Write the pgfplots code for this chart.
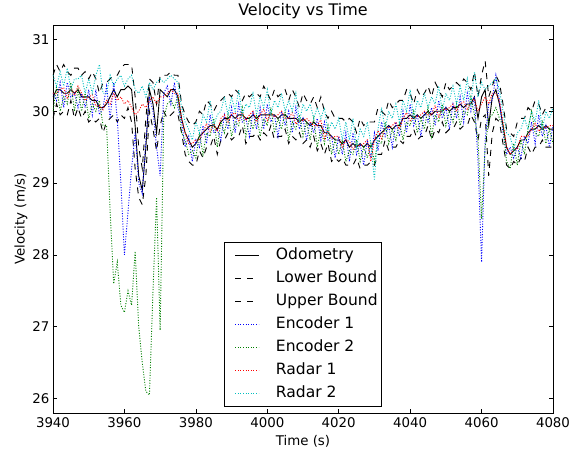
\documentclass[border=0pt]{standalone}
\usepackage{pgfplots}
\pgfplotsset{compat=1.18}
\usepackage{pgfplotstable}
\usepackage{fontspec}
\setmainfont{DejaVu Sans}
\definecolor{mb}{rgb}{0,0,1}
\definecolor{mg}{rgb}{0,0.5,0}
\definecolor{mr}{rgb}{1,0,0}
\definecolor{mc}{rgb}{0,0.75,0.75}
\pgfplotstableread{
t odo lo up e1 e2 r1 r2
3940 30.20 29.90 30.50 30.25 30.00 30.25 30.50
3941 30.30 30.10 30.65 30.15 30.35 30.25 30.35
3942 30.30 29.95 30.55 30.40 30.00 30.30 30.55
3943 30.25 30.00 30.65 30.05 30.20 30.33 30.35
3944 30.25 29.95 30.55 30.40 30.10 30.17 30.60
3945 30.30 30.15 30.50 30.20 30.40 30.33 30.30
3946 30.25 29.90 30.60 30.25 30.00 30.22 30.45
3947 30.30 30.05 30.60 30.05 30.30 30.35 30.45
3948 30.20 29.90 30.50 30.25 30.00 30.25 30.50
3949 30.20 30.00 30.55 30.05 30.25 30.15 30.25
3950 30.20 29.85 30.45 30.30 29.90 30.20 30.45
3951 30.15 29.90 30.55 29.95 30.10 30.23 30.25
3952 30.15 29.85 30.45 30.30 30.00 30.07 30.50
3953 30.05 29.90 30.25 29.95 30.15 30.08 30.65
3954 30.05 29.70 30.40 30.05 29.80 30.02 30.25
3955 30.10 29.85 30.40 30.35 29.80 30.15 30.25
3956 30.20 29.90 30.45 29.90 28.60 30.10 30.50
3957 30.30 29.95 30.50 30.40 27.60 30.25 30.35
3958 30.20 29.85 30.50 29.90 27.90 30.15 30.45
3959 30.30 29.95 30.60 29.00 27.30 30.20 30.50
3960 30.30 29.90 30.65 28.00 27.20 30.10 30.35
3961 30.35 30.05 30.65 28.60 27.50 30.15 30.45
3962 30.30 29.85 30.65 29.20 27.30 30.05 30.50
3963 29.80 29.20 30.20 29.70 28.05 29.95 30.30
3964 29.10 28.80 29.50 29.00 27.00 30.00 30.25
3965 28.90 28.70 29.20 28.85 26.50 30.10 30.35
3966 29.50 29.10 29.90 29.60 26.10 30.05 30.20
3967 30.30 30.00 30.45 30.20 26.05 30.15 30.40
3968 30.10 29.75 30.40 30.00 27.50 30.20 30.30
3969 29.70 29.45 30.10 29.50 28.80 30.10 30.40
3970 30.30 29.80 30.50 29.10 26.95 30.20 30.45
3971 30.25 30.00 30.50 30.25 29.90 30.20 30.40
3972 30.20 29.90 30.50 30.35 30.10 30.25 30.45
3973 30.30 29.95 30.55 30.10 30.15 30.30 30.50
3974 30.30 30.00 30.50 30.40 30.05 30.25 30.45
3975 30.20 29.95 30.50 30.05 30.20 30.25 30.40
3976 29.90 29.70 30.10 29.85 29.70 29.90 30.05
3977 29.70 29.40 29.95 29.50 29.60 29.70 29.85
3978 29.60 29.30 29.85 29.65 29.40 29.55 29.75
3979 29.50 29.25 29.80 29.30 29.45 29.55 29.60
3980 29.55 29.25 29.85 29.60 29.35 29.60 29.85
3981 29.65 29.45 30.00 29.50 29.70 29.60 29.70
3982 29.70 29.35 29.95 29.80 29.40 29.70 29.95
3983 29.75 29.50 30.15 29.55 29.70 29.83 29.85
3984 29.80 29.50 30.10 29.95 29.65 29.72 30.15
3985 29.80 29.65 30.00 29.70 29.90 29.83 29.80
3986 29.75 29.40 30.10 29.75 29.50 29.72 29.95
3987 29.85 29.60 30.15 29.60 29.85 29.90 30.00
3988 29.90 29.60 30.20 29.95 29.70 29.95 30.20
3989 29.90 29.70 30.25 29.75 29.95 29.85 29.95
3990 29.95 29.60 30.20 30.05 29.65 29.95 30.20
3991 29.90 29.65 30.30 29.70 29.85 29.98 30.00
3992 29.95 29.65 30.25 30.10 29.80 29.87 30.30
3993 29.95 29.80 30.15 29.85 30.05 29.98 29.95
3994 29.90 29.55 30.25 29.90 29.65 29.87 30.10
3995 29.90 29.65 30.20 29.65 29.90 29.95 30.05
3996 29.95 29.65 30.25 30.00 29.75 30.00 30.25
3997 29.90 29.70 30.25 29.75 29.95 29.85 29.95
3998 29.95 29.60 30.20 30.05 29.65 29.95 30.20
3999 29.95 29.70 30.35 29.75 29.90 30.03 30.05
4000 29.95 29.65 30.25 30.10 29.80 29.87 30.30
4001 29.95 29.80 30.15 29.85 30.05 29.98 29.95
4002 29.95 29.60 30.30 29.95 29.70 29.92 30.15
4003 29.90 29.65 30.20 29.65 29.90 29.95 30.05
4004 29.95 29.65 30.25 30.00 29.75 30.00 30.25
4005 29.95 29.75 30.30 29.80 30.00 29.90 30.00
4006 29.90 29.55 30.15 30.00 29.60 29.90 30.15
4007 29.90 29.65 30.30 29.70 29.85 29.98 30.00
4008 29.90 29.60 30.20 30.05 29.75 29.82 30.25
4009 29.85 29.70 30.05 29.75 29.95 29.88 29.85
4010 29.90 29.55 30.25 29.90 29.65 29.87 30.10
4011 29.85 29.60 30.15 29.60 29.85 29.90 30.00
4012 29.80 29.50 30.10 29.85 29.60 29.85 30.10
4013 29.85 29.65 30.20 29.70 29.90 29.80 29.90
4014 29.80 29.45 30.05 29.90 29.50 29.80 30.05
4015 29.80 29.55 30.20 29.60 29.75 29.88 29.90
4016 29.70 29.40 30.00 29.85 29.55 29.62 30.05
4017 29.70 29.55 29.90 29.60 29.80 29.73 29.70
4018 29.65 29.30 30.00 29.65 29.40 29.62 29.85
4019 29.60 29.35 29.90 29.35 29.60 29.65 29.75
4020 29.60 29.30 29.90 29.65 29.40 29.65 29.90
4021 29.55 29.35 29.90 29.40 29.60 29.50 29.60
4022 29.60 29.25 29.85 29.70 29.30 29.60 29.85
4023 29.50 29.25 29.90 29.30 29.45 29.58 29.60
4024 29.55 29.25 29.85 29.70 29.40 29.47 29.90
4025 29.50 29.35 29.70 29.40 29.60 29.53 29.50
4026 29.55 29.20 29.90 29.55 29.30 29.52 29.75
4027 29.50 29.25 29.80 29.25 29.50 29.55 29.65
4028 29.55 29.25 29.85 29.60 29.35 29.60 29.85
4029 29.50 29.30 29.85 29.35 29.55 29.30 29.55
4030 29.60 29.25 29.85 29.70 29.30 29.60 29.05
4031 29.65 29.40 30.05 29.45 29.60 29.73 29.75
4032 29.70 29.40 30.00 29.85 29.55 29.62 30.05
4033 29.75 29.60 29.95 29.65 29.85 29.78 29.75
4034 29.80 29.45 30.15 29.80 29.55 29.77 30.00
4035 29.75 29.50 30.05 29.50 29.75 29.80 29.90
4036 29.80 29.50 30.10 29.85 29.60 29.85 30.10
4037 29.80 29.60 30.15 29.65 29.85 29.75 29.85
4038 29.90 29.55 30.15 30.00 29.60 29.90 30.15
4039 29.90 29.65 30.30 29.70 29.85 29.98 30.00
4040 29.95 29.65 30.25 30.10 29.80 29.87 30.30
4041 29.90 29.75 30.10 29.80 30.00 29.93 29.90
4042 29.95 29.60 30.30 29.95 29.70 29.92 30.15
4043 29.90 29.65 30.20 29.65 29.90 29.95 30.05
4044 29.95 29.65 30.25 30.00 29.75 30.00 30.25
4045 30.00 29.80 30.35 29.85 30.05 29.95 30.05
4046 29.95 29.60 30.20 30.05 29.65 29.95 30.20
4047 30.00 29.75 30.40 29.80 29.95 30.08 30.10
4048 30.00 29.70 30.30 30.15 29.85 29.92 30.35
4049 30.00 29.85 30.20 29.90 30.10 30.03 30.00
4050 30.05 29.70 30.40 30.05 29.80 30.02 30.25
4051 30.00 29.75 30.30 29.75 30.00 30.05 30.15
4052 30.05 29.75 30.35 30.10 29.85 30.10 30.35
4053 30.05 29.85 30.40 29.90 30.10 30.00 30.10
4054 30.10 29.75 30.35 30.20 29.80 30.10 30.35
4055 30.05 29.80 30.45 29.85 30.00 30.13 30.15
4056 30.10 29.80 30.40 30.25 29.95 30.02 30.45
4057 30.10 29.95 30.30 30.00 30.20 30.13 30.10
4058 30.20 29.85 30.55 30.20 29.95 30.17 30.55
4059 29.90 29.60 30.20 29.30 29.60 30.00 30.20
4060 30.20 29.90 30.50 27.90 28.50 30.10 30.40
4061 30.30 29.95 30.70 29.60 29.50 30.20 30.30
4062 29.80 29.10 30.20 30.10 29.90 30.10 30.35
4063 30.20 29.70 30.35 30.15 29.95 30.25 30.40
4064 30.30 29.90 30.50 30.50 30.05 30.25 30.45
4065 30.10 29.85 30.40 30.15 29.90 30.15 30.30
4066 29.80 29.55 30.10 29.70 29.80 29.85 30.00
4067 29.50 29.25 29.75 29.40 29.30 29.50 29.70
4068 29.40 29.20 29.70 29.50 29.20 29.40 29.65
4069 29.45 29.30 29.65 29.35 29.55 29.48 29.45
4070 29.50 29.25 29.85 29.50 29.25 29.47 29.70
4071 29.60 29.35 29.90 29.35 29.60 29.65 29.75
4072 29.60 29.30 29.90 29.65 29.40 29.65 29.90
4073 29.70 29.50 30.05 29.55 29.75 29.65 29.75
4074 29.75 29.40 30.00 29.85 30.00 29.75 30.00
4075 29.75 29.50 30.15 29.55 29.70 29.83 29.85
4076 29.80 29.50 30.10 29.95 29.65 29.72 30.15
4077 29.75 29.60 29.95 29.65 29.85 29.78 29.75
4078 29.80 29.50 30.05 29.80 29.55 29.77 30.00
4079 29.75 29.50 30.05 29.50 29.75 29.80 29.90
4080 29.75 29.50 30.05 29.80 29.55 29.80 30.05
}\data
\begin{document}
\begin{tikzpicture}
\begin{axis}[
  scale only axis, width=500bp, height=388bp,
  xmin=3940, xmax=4080, ymin=25.8, ymax=31.2,
  xtick={3940,3960,...,4080}, ytick={26,27,...,31},
  tick align=inside, major tick length=4bp,
  axis line style={line width=0.8bp},
  every tick/.style={black, line width=0.6bp},
  /pgf/number format/assume math mode=true,
  /pgf/number format/set thousands separator={},
  tick label style={font=\fontsize{13.4}{15}\selectfont},
  xticklabel style={yshift=-1bp},
  title={Velocity vs Time},
  title style={font=\fontsize{16}{18}\selectfont, at={(axis description cs:0.5,0.992)}, anchor=south},
  xlabel={Time (s)},
  xlabel style={font=\fontsize{13.4}{15}\selectfont, at={(axis description cs:0.5,-0.073)}, anchor=center},
  ylabel={Velocity (m/s)},
  ylabel style={font=\fontsize{13.4}{15}\selectfont, at={(axis description cs:-0.064,0.5)}, anchor=center},
  legend style={at={(axis description cs:0.5,0.016)}, anchor=south, draw=black, line width=0.8bp, fill=white,
    font=\fontsize{15.6}{18}\selectfont, row sep=5.4bp, inner xsep=3.7bp, inner ysep=4.5bp,
    nodes={font=\fontsize{15.6}{18}\selectfont, inner xsep=0bp, inner ysep=1bp, text height=12bp, text depth=3.5bp},
    /tikz/every odd column/.append style={column sep=0bp},
    /tikz/every even column/.append style={column sep=0bp}},
  legend cell align=left,
  legend image code/.code={\path[draw=none,fill=none] (-6.9bp,0bp) -- (40.7bp,0bp);\draw[#1, line width=1bp] (0bp,0bp) -- (23.4bp,0bp);},
  clip=true,
]
\coordinate (bl) at (rel axis cs:0,0);
\coordinate (tr) at (rel axis cs:1,1);
\addplot[black, line width=0.9bp] table[x=t,y=odo] {\data};
\addlegendentry{Odometry}
\addplot[black, line width=0.9bp, dash pattern=on 6bp off 6bp] table[x=t,y=lo] {\data};
\addlegendentry{Lower Bound}
\addplot[black, line width=0.9bp, dash pattern=on 6bp off 6bp] table[x=t,y=up] {\data};
\addlegendentry{Upper Bound}
\addplot[mb, line width=0.9bp, dash pattern=on 1bp off 1.6bp] table[x=t,y=e1] {\data};
\addlegendentry{Encoder 1}
\addplot[mg, line width=0.9bp, dash pattern=on 1bp off 1.6bp] table[x=t,y=e2] {\data};
\addlegendentry{Encoder 2}
\addplot[mr, line width=0.9bp, dash pattern=on 1bp off 1.6bp] table[x=t,y=r1] {\data};
\addlegendentry{Radar 1}
\addplot[mc, line width=0.9bp, dash pattern=on 1bp off 1.6bp] table[x=t,y=r2] {\data};
\addlegendentry{Radar 2}
\end{axis}
\pgfresetboundingbox
\path[use as bounding box] ([xshift=-53bp,yshift=-41bp]bl) rectangle ([xshift=29bp,yshift=25bp]tr);
\end{tikzpicture}
\end{document}
